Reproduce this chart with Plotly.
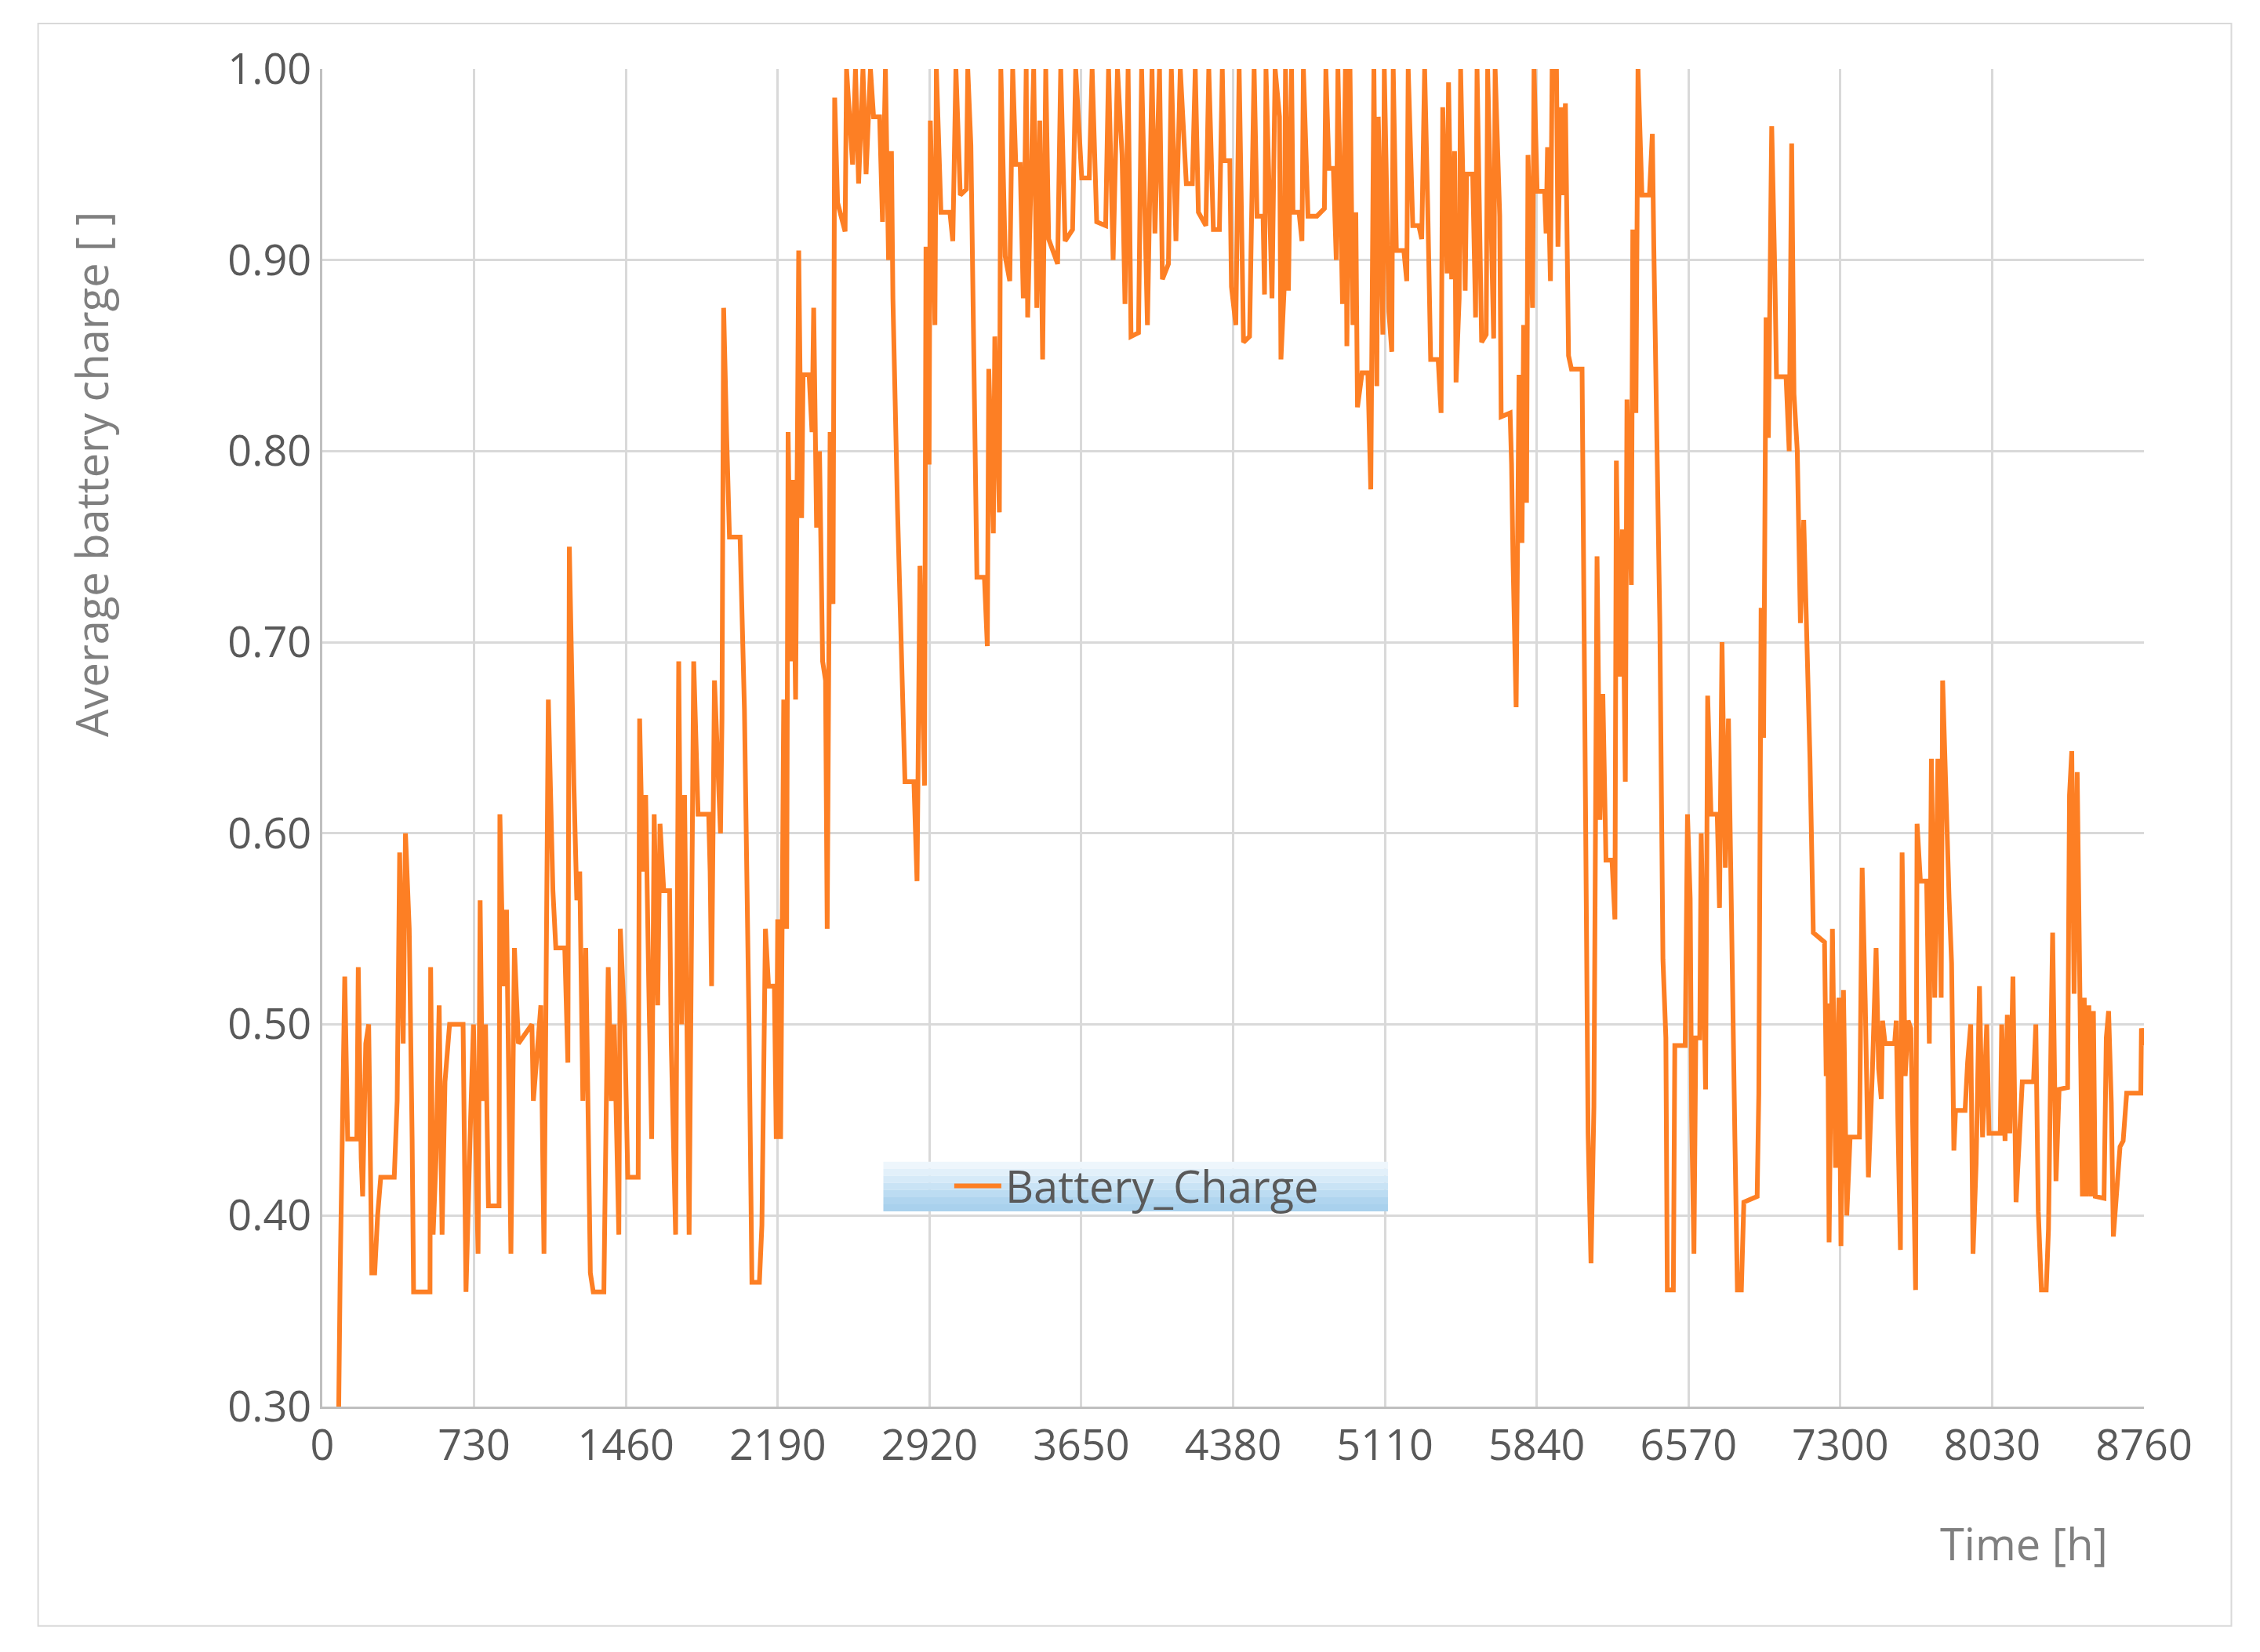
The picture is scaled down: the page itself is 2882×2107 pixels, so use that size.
import plotly.graph_objects as go

time_h = [79, 86, 108, 122, 166, 173, 187, 194, 209, 223, 238, 252, 266, 281, 346, 360, 372, 389, 400, 418, 432, 439, 518, 521, 533, 547, 562, 576, 590, 612, 677, 691, 713, 727, 749, 759, 770, 785, 799, 850, 854, 871, 886, 907, 924, 943, 1008, 1015, 1051, 1066, 1087, 1109, 1123, 1166, 1181, 1188, 1210, 1224, 1238, 1253, 1267, 1289, 1303, 1354, 1361, 1375, 1390, 1404, 1426, 1433, 1454, 1469, 1519, 1526, 1541, 1555, 1570, 1584, 1596, 1613, 1624, 1642, 1670, 1678, 1699, 1714, 1728, 1742, 1764, 1786, 1807, 1858, 1865, 1872, 1886, 1915, 1922, 1930, 1944, 1958, 2009, 2030, 2052, 2066, 2102, 2114, 2131, 2146, 2174,
          2183, 2190, 2204, 2219, 2233, 2240, 2255, 2262, 2276, 2291, 2305, 2312, 2341, 2355, 2363, 2377, 2391, 2406, 2420, 2428, 2442, 2456, 2464, 2478, 2514, 2521, 2550, 2564, 2579, 2600, 2615, 2636, 2651, 2680, 2694, 2708, 2723, 2737, 2744, 2766, 2787, 2802, 2845, 2860, 2874, 2896, 2903, 2918, 2924, 2946, 2953, 2975, 3018, 3032, 3047, 3068, 3097, 3104, 3119, 3133, 3148, 3184, 3198, 3205, 3227, 3234, 3256, 3263, 3284, 3306, 3320, 3335, 3356, 3371, 3385, 3392, 3421, 3436, 3450, 3464, 3479, 3493, 3536, 3551, 3572, 3608, 3623, 3652, 3688, 3702, 3724, 3767, 3781, 3803, 3824, 3846, 3860, 3875, 3889, 3925, 3940, 3968, 3990, 4004, 4026, 4040, 4069, 4083, 4105, 4126, 4155, 4184, 4198, 4213, 4249, 4263, 4285, 4314, 4328, 4336, 4364, 4372, 4393,
          4409, 4430, 4459, 4481, 4495, 4524, 4531, 4538, 4567, 4582, 4603, 4610, 4625, 4632, 4646, 4661, 4668, 4697, 4711, 4718, 4740, 4783, 4819, 4826, 4841, 4862, 4876, 4884, 4906, 4920, 4927, 4942, 4956, 4970, 4978, 5000, 5028, 5042, 5057, 5071, 5078, 5100, 5107, 5129, 5143, 5150, 5165, 5201, 5215, 5222, 5244, 5273, 5287, 5301, 5316, 5330, 5366, 5380, 5388, 5409, 5416, 5431, 5445, 5452, 5467, 5474, 5496, 5503, 5532, 5546, 5553, 5575, 5597, 5604, 5633, 5640, 5662, 5669, 5712, 5719, 5726, 5741, 5755, 5769, 5777, 5791, 5798, 5820, 5827, 5842, 5878, 5885, 5892, 5906, 5914, 5935, 5942, 5957, 5964, 5978, 5993, 6007, 6058, 6065, 6072, 6079, 6087, 6101, 6115, 6130, 6137, 6144, 6158, 6173, 6202, 6216, 6223, 6238, 6252, 6266, 6274, 6295, 6302, 6317, 6327, 6346, 6382, 6396, 6403, 6418, 6432, 6447, 6461, 6468, 6497, 6504, 6554,
          6565, 6578, 6585, 6596, 6605, 6624, 6631, 6642, 6652, 6662, 6678, 6708, 6719, 6731, 6747, 6762, 6778, 6793, 6805, 6824, 6836, 6900, 6908, 6919, 6931, 6943, 6954, 6970, 6985, 6993, 7039, 7054, 7066, 7077, 7093, 7108, 7124, 7139, 7154, 7170, 7224, 7232, 7239, 7246, 7262, 7277, 7293, 7303, 7315, 7331, 7347, 7392, 7405, 7420, 7435, 7454, 7472, 7484, 7497, 7503, 7515, 7561, 7569, 7577, 7589, 7597, 7612, 7626, 7639, 7651, 7662, 7669, 7685, 7715, 7728, 7738, 7754, 7769, 7785, 7792, 7808, 7823, 7835, 7846, 7854, 7900, 7912, 7927, 7938, 7953, 7969, 7984, 8004, 8015, 8069, 8076, 8092, 8103, 8115, 8130, 8145, 8160, 8175, 8229, 8240, 8252, 8267, 8290, 8301, 8314, 8321, 8337, 8352, 8393, 8402, 8413, 8424, 8439, 8452, 8464, 8473, 8483, 8495, 8506, 8517, 8526, 8568, 8579, 8590, 8603, 8613, 8628, 8645, 8660, 8677, 8745, 8748, 8760]

charge = [0.30, 0.37, 0.525, 0.44, 0.44, 0.53, 0.43, 0.41, 0.49, 0.50, 0.37, 0.37, 0.40, 0.42, 0.42, 0.46, 0.59, 0.49, 0.60, 0.55, 0.44, 0.36, 0.36, 0.53, 0.39, 0.43, 0.51, 0.39, 0.47, 0.50, 0.50, 0.36, 0.45, 0.50, 0.38, 0.565, 0.46, 0.50, 0.405, 0.405, 0.61, 0.52, 0.56, 0.38, 0.54, 0.49, 0.50, 0.46, 0.51, 0.38, 0.67, 0.57, 0.54, 0.54, 0.48, 0.75, 0.625, 0.565, 0.58, 0.46, 0.54, 0.37, 0.36, 0.36, 0.42, 0.53, 0.46, 0.50, 0.39, 0.55, 0.50, 0.42, 0.42, 0.66, 0.58, 0.62, 0.52, 0.44, 0.61, 0.51, 0.605, 0.57, 0.57, 0.49, 0.39, 0.69, 0.50, 0.62, 0.39, 0.69, 0.61, 0.61, 0.58, 0.52, 0.68, 0.60, 0.66, 0.875, 0.81, 0.755, 0.755, 0.665, 0.50, 0.365, 0.365, 0.395, 0.55, 0.52, 0.52,
          0.44, 0.555, 0.44, 0.67, 0.55, 0.81, 0.69, 0.785, 0.67, 0.905, 0.765, 0.84, 0.84, 0.81, 0.875, 0.76, 0.80, 0.69, 0.68, 0.55, 0.81, 0.72, 0.985, 0.93, 0.915, 1.0, 0.95, 1.0, 0.94, 1.0, 0.945, 1.0, 0.975, 0.975, 0.92, 1.0, 0.90, 0.957, 0.88, 0.77, 0.675, 0.627, 0.627, 0.575, 0.74, 0.625, 0.907, 0.793, 0.973, 0.866, 1.0, 0.925, 0.925, 0.91, 1.0, 0.934, 0.937, 1.0, 0.96, 0.85, 0.734, 0.734, 0.698, 0.843, 0.757, 0.86, 0.768, 1.0, 0.902, 0.889, 1.0, 0.95, 0.95, 0.88, 1.0, 0.87, 1.0, 0.875, 0.973, 0.848, 1.0, 0.911, 0.898, 1.0, 0.91, 0.916, 1.0, 0.943, 0.943, 1.0, 0.92, 0.918, 1.0, 0.90, 1.0, 0.955, 0.877, 1.0, 0.86, 0.862, 1.0, 0.866, 1.0, 0.914, 1.0, 0.89, 0.898, 1.0, 0.91, 1.0, 0.94, 0.94, 1.0, 0.925, 0.918, 1.0, 0.916, 0.916, 1.0, 0.952, 0.952, 0.886, 0.866,
          1.0, 0.857, 0.86, 1.0, 0.923, 0.923, 0.882, 1.0, 0.88, 1.0, 0.975, 0.848, 0.884, 1.0, 0.884, 1.0, 0.925, 0.925, 0.91, 1.0, 0.923, 0.923, 0.927, 1.0, 0.948, 0.948, 0.90, 1.0, 0.877, 1.0, 0.855, 1.0, 0.866, 0.925, 0.823, 0.841, 0.841, 0.78, 1.0, 0.834, 0.975, 0.861, 1.0, 0.873, 0.852, 1.0, 0.905, 0.905, 0.889, 1.0, 0.918, 0.918, 0.911, 1.0, 0.927, 0.848, 0.848, 0.82, 0.98, 0.893, 0.993, 0.89, 0.957, 0.836, 0.88, 1.0, 0.884, 0.945, 0.945, 0.87, 1.0, 0.857, 0.861, 1.0, 0.859, 1.0, 0.923, 0.818, 0.82, 0.793, 0.743, 0.666, 0.84, 0.752, 0.866, 0.773, 0.955, 0.875, 1.0, 0.936, 0.936, 0.914, 0.959, 0.889, 1.0, 1.0, 0.907, 0.98, 0.934, 0.982, 0.85, 0.843, 0.843, 0.752, 0.639, 0.525, 0.443, 0.375, 0.457, 0.745, 0.643, 0.607, 0.673, 0.586, 0.586, 0.555, 0.795, 0.682, 0.759, 0.627, 0.827, 0.73, 0.916, 0.82, 1.0, 0.934, 0.934, 0.966, 0.907, 0.80, 0.71, 0.534, 0.493, 0.361, 0.361, 0.489, 0.489,
          0.61, 0.566, 0.452, 0.38, 0.493, 0.493, 0.60, 0.539, 0.466, 0.672, 0.61, 0.61, 0.561, 0.70, 0.582, 0.66, 0.53, 0.44, 0.361, 0.361, 0.407, 0.41, 0.464, 0.718, 0.65, 0.87, 0.807, 0.97, 0.893, 0.839, 0.839, 0.80, 0.961, 0.83, 0.80, 0.71, 0.764, 0.707, 0.639, 0.548, 0.543, 0.473, 0.511, 0.386, 0.55, 0.425, 0.514, 0.384, 0.518, 0.40, 0.441, 0.441, 0.582, 0.511, 0.42, 0.475, 0.54, 0.477, 0.461, 0.502, 0.49, 0.49, 0.502, 0.448, 0.382, 0.59, 0.473, 0.502, 0.498, 0.43, 0.361, 0.605, 0.575, 0.575, 0.49, 0.639, 0.514, 0.639, 0.514, 0.68, 0.616, 0.566, 0.532, 0.434, 0.455, 0.455, 0.48, 0.50, 0.38, 0.427, 0.52, 0.441, 0.50, 0.443, 0.443, 0.50, 0.439, 0.505, 0.443, 0.525, 0.407, 0.436, 0.47, 0.47, 0.50, 0.402, 0.361, 0.361, 0.393, 0.50, 0.548, 0.418, 0.466, 0.467, 0.62, 0.643, 0.516, 0.632, 0.53, 0.41, 0.514, 0.41, 0.51, 0.41, 0.507, 0.41, 0.409, 0.493, 0.507, 0.459, 0.389, 0.41, 0.436, 0.439, 0.464, 0.464, 0.498, 0.489]

x_ticks = [0, 730, 1460, 2190, 2920, 3650, 4380, 5110, 5840, 6570, 7300, 8030, 8760]
series_name = "Battery_Charge"

FONT = "Open Sans"
fig = go.Figure()
fig.add_trace(go.Scatter(x=time_h, y=charge, mode="lines", name=series_name,
                         line=dict(color="#fd7f24", width=6)))

shapes = [dict(type="rect", xref="paper", yref="paper", x0=-0.156, x1=1.048, y0=-0.164, y1=1.034,
               line=dict(color="#d9d9d9", width=2), fillcolor="rgba(0,0,0,0)", layer="below")]
blues = ["#eef6fc", "#e2f0fa", "#d6eaf8", "#c9e3f5", "#bcdcf2", "#b0d5ef", "#a9d1ed"]
y_top, y_bot = 0.183, 0.146
n = len(blues)
for i, c in enumerate(blues):
    shapes.append(dict(type="rect", xref="paper", yref="paper", x0=0.308, x1=0.585,
                       y0=y_top - (i + 1) * (y_top - y_bot) / n, y1=y_top - i * (y_top - y_bot) / n,
                       line=dict(width=0), fillcolor=c, layer="above"))

fig.update_layout(
    width=2882, height=2107,
    margin=dict(l=403, r=156, t=80, b=321),
    paper_bgcolor="white", plot_bgcolor="white",
    font=dict(family=FONT, color="#595959", size=54),
    showlegend=True,
    legend=dict(x=0.447, y=0.165, xanchor="center", yanchor="middle", bgcolor="rgba(0,0,0,0)",
                font=dict(size=56, color="#595959"), itemwidth=60),
    xaxis=dict(range=[0, 8760], tickmode="array", tickvals=x_ticks, ticktext=[str(v) for v in x_ticks],
               showgrid=True, gridcolor="#d9d9d9", gridwidth=3, showline=True, linecolor="#bfbfbf",
               linewidth=3, zeroline=False, ticks="", ticklen=0),
    yaxis=dict(range=[0.3, 1.0], dtick=0.1, tickformat=".2f", showgrid=True, gridcolor="#d9d9d9",
               gridwidth=3, showline=True, linecolor="#bfbfbf", linewidth=3, zeroline=False, ticks=""),
    shapes=shapes,
    annotations=[
        dict(text="Average battery charge [ ]", xref="paper", yref="paper", x=-0.127, y=0.697,
             textangle=-90, showarrow=False, xanchor="center", yanchor="middle",
             font=dict(size=56, color="#7f7f7f")),
        dict(text="Time [h]", xref="paper", yref="paper", x=0.934, y=-0.102, showarrow=False,
             xanchor="center", yanchor="middle", font=dict(size=56, color="#7f7f7f")),
    ],
)
fig.write_html("out.html")
